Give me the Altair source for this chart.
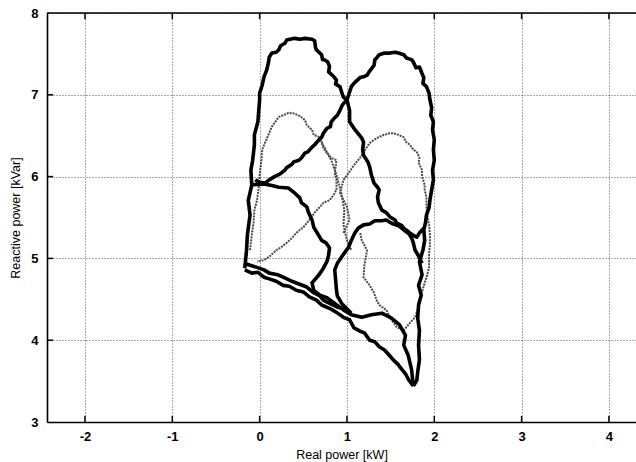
import altair as alt
import pandas as pd

# ---- data ----
A_x = [-0.17,-0.15,-0.14,-0.11,-0.13,-0.09,-0.10,-0.08,-0.06,-0.06,-0.02,-0.01,0.00,0.00,0.03,0.05,0.08,0.10,0.11,0.14,0.19,0.22,0.24,0.29,0.31,0.40,0.46,0.52,0.60,0.63,0.64,0.65,0.69,0.71,0.72,0.74,0.78,0.80,0.79,0.85,0.88,0.87,0.92,0.94,0.96,1.00,0.95,0.92,0.89,0.86,0.82,0.81,0.77,0.73,0.71,0.68,0.63,0.60,0.55,0.52,0.48,0.45,0.39,0.37,0.31,0.29,0.23,0.17,0.11,0.06,0.00,-0.05]
A_y = [4.88,5.10,5.29,5.53,5.71,5.90,6.08,6.20,6.39,6.51,6.67,6.81,6.94,7.02,7.12,7.22,7.30,7.39,7.46,7.51,7.52,7.55,7.60,7.63,7.67,7.69,7.68,7.69,7.68,7.66,7.58,7.55,7.51,7.49,7.43,7.43,7.40,7.35,7.28,7.22,7.18,7.13,7.10,7.03,6.97,6.94,6.88,6.81,6.75,6.72,6.67,6.61,6.59,6.53,6.48,6.45,6.39,6.36,6.30,6.29,6.23,6.20,6.18,6.15,6.11,6.08,6.03,6.00,5.96,5.92,5.93,5.96]

B_x = [1.00,1.02,1.05,1.08,1.15,1.19,1.23,1.26,1.31,1.32,1.34,1.37,1.43,1.49,1.55,1.59,1.65,1.68,1.74,1.76,1.79,1.83,1.86,1.88,1.87,1.91,1.94,1.95,1.97,1.96,1.99,1.98,2.00,1.99,2.00,1.98,1.99,1.97,1.95,1.94,1.91,1.90,1.88,1.89,1.87,1.83,1.86,1.82,1.85,1.82,1.81,1.83,1.82,1.83,1.81,1.80,1.76]
B_y = [6.94,7.00,7.10,7.14,7.21,7.22,7.24,7.29,7.36,7.43,7.45,7.49,7.51,7.51,7.52,7.51,7.49,7.45,7.43,7.40,7.33,7.34,7.26,7.21,7.14,7.10,7.02,6.94,6.84,6.75,6.67,6.57,6.45,6.33,6.20,6.08,5.96,5.84,5.71,5.62,5.53,5.44,5.35,5.22,5.10,4.96,4.80,4.67,4.55,4.43,4.27,4.12,3.94,3.76,3.61,3.51,3.44]

C_x = [1.00,1.03,1.03,1.08,1.11,1.17,1.19,1.18,1.19,1.24,1.26,1.28,1.31,1.35,1.37,1.35,1.36,1.40,1.45,1.49,1.55,1.57,1.63,1.65,1.70,1.72,1.78,1.80,1.83,1.88]
C_y = [6.94,6.81,6.67,6.59,6.55,6.47,6.42,6.33,6.26,6.18,6.12,6.02,5.92,5.87,5.84,5.75,5.68,5.59,5.56,5.51,5.47,5.43,5.40,5.37,5.33,5.31,5.27,5.26,5.31,5.37]

D_x = [-0.09,0.05,0.14,0.22,0.33,0.40,0.46,0.48,0.54,0.56,0.60,0.62,0.66,0.71,0.76,0.80,0.79,0.77,0.73,0.68,0.60,0.62,0.69,0.77,0.86,0.96,1.05,1.17,1.28,1.40,1.51,1.60,1.67,1.65,1.70,1.74,1.76]
D_y = [5.90,5.91,5.89,5.87,5.86,5.80,5.74,5.68,5.63,5.56,5.47,5.38,5.31,5.22,5.19,5.13,5.04,4.96,4.88,4.80,4.70,4.61,4.55,4.52,4.45,4.37,4.31,4.28,4.31,4.33,4.27,4.19,4.06,3.94,3.82,3.64,3.44]

E_x = [-0.17,-0.09,-0.02,0.05,0.11,0.19,0.27,0.34,0.42,0.50,0.57,0.65,0.71,0.80,0.88,0.96,1.03,1.08,1.15,1.20,1.26,1.32,1.37,1.43,1.49,1.53,1.58,1.63,1.67,1.71,1.76]
E_y = [4.86,4.82,4.83,4.77,4.75,4.72,4.67,4.66,4.61,4.59,4.53,4.49,4.43,4.39,4.34,4.28,4.25,4.15,4.11,4.09,4.00,3.98,3.92,3.88,3.81,3.76,3.71,3.64,3.59,3.51,3.44]

E2_x = [-0.18,-0.09,-0.03,0.05,0.11,0.21,0.27,0.37,0.42,0.54,0.62,0.69,0.73,0.82,0.88,1.00]
E2_y = [4.94,4.91,4.89,4.86,4.82,4.80,4.77,4.72,4.70,4.65,4.58,4.54,4.49,4.44,4.41,4.37]

F_x = [1.05,0.94,0.89,0.88,0.87,0.86,0.89,0.94,0.98,1.02,1.05,1.09,1.13,1.19,1.26,1.32,1.40,1.45,1.51,1.59,1.65,1.71,1.74,1.76,1.78,1.82,1.86]
F_y = [4.33,4.45,4.54,4.61,4.74,4.86,4.94,5.02,5.08,5.14,5.22,5.31,5.37,5.41,5.42,5.46,5.46,5.47,5.43,5.40,5.35,5.30,5.25,5.19,5.10,5.03,4.94]

G1_x = [-0.11,-0.09,-0.07,-0.06,-0.03,-0.01,0.00,0.02,0.03,0.06,0.10,0.14,0.18,0.22,0.27,0.33,0.40,0.46,0.52,0.54,0.60,0.62,0.69,0.71,0.73,0.77,0.82,0.88,0.87,0.86,0.88,0.88,0.85,0.80,0.73,0.69,0.63,0.57,0.50,0.46,0.42,0.37,0.31,0.25,0.19,0.11,0.05,-0.03]
G1_y = [5.10,5.29,5.43,5.59,5.71,5.87,6.02,6.20,6.33,6.41,6.51,6.61,6.67,6.73,6.75,6.78,6.77,6.74,6.69,6.63,6.57,6.51,6.48,6.42,6.35,6.29,6.23,6.20,6.12,6.04,5.96,5.84,5.78,5.71,5.68,5.63,5.56,5.47,5.38,5.35,5.31,5.25,5.19,5.14,5.10,5.02,4.98,4.96]

G1b_x = [0.71,0.82,0.88,0.94,0.97,0.96,1.00,1.05]
G1b_y = [6.42,6.20,6.02,5.78,5.59,5.41,5.22,5.10]

G2_x = [0.96,1.03,1.00,0.92,0.96,1.03,1.08,1.15,1.19,1.26,1.34,1.42,1.49,1.53,1.59,1.65,1.68,1.72,1.76,1.80,1.83,1.82,1.86,1.86,1.89,1.89,1.91,1.91,1.92,1.94,1.95,1.95,1.94,1.94,1.92,1.89,1.86,1.83,1.81,1.78,1.72,1.65,1.57,1.51,1.45,1.37,1.34,1.31,1.26,1.19,1.20,1.23,1.17,1.15]
G2_y = [5.31,5.47,5.63,5.80,5.96,6.06,6.14,6.23,6.30,6.41,6.47,6.51,6.53,6.53,6.51,6.48,6.42,6.39,6.33,6.30,6.23,6.17,6.08,6.00,5.90,5.84,5.75,5.65,5.53,5.41,5.29,5.16,5.04,4.89,4.80,4.70,4.59,4.49,4.37,4.28,4.21,4.12,4.16,4.25,4.37,4.43,4.49,4.58,4.67,4.77,4.92,5.10,5.22,5.32]

x_ticks = [-2, -1, 0, 1, 2, 3, 4]
y_ticks = [3, 4, 5, 6, 7, 8]
X_MIN, X_MAX = -2.435, 4.31
Y_MIN, Y_MAX = 3, 8

thick = {"A": (A_x, A_y), "B": (B_x, B_y), "C": (C_x, C_y), "D": (D_x, D_y),
         "E": (E_x, E_y), "E2": (E2_x, E2_y), "F": (F_x, F_y)}
thin = {"G1": (G1_x, G1_y), "G1b": (G1b_x, G1b_y), "G2": (G2_x, G2_y)}


def frame(paths):
    rows = []
    for name, (xs, ys) in paths.items():
        for i, (a, b) in enumerate(zip(xs, ys)):
            rows.append({"path": name, "order": i, "x": a, "y": b})
    return pd.DataFrame(rows)


df_thick = frame(thick)
df_thin = frame(thin)

FONT = "Liberation Sans"
xs = alt.Scale(domain=[X_MIN, X_MAX], nice=False, zero=False)
ys = alt.Scale(domain=[Y_MIN, Y_MAX], nice=False, zero=False)

common = dict(grid=True, gridDash=[1, 2], gridColor="#555", gridWidth=1, ticks=False,
              domainColor="#000", domainWidth=1.6, labelFont=FONT, labelFontSize=13,
              labelFontWeight="bold", labelColor="#000", labelExpr="'' + datum.value",
              titleFont=FONT, titleFontSize=12.5, titleFontWeight="normal", titleColor="#000")
x_axis = alt.Axis(values=x_ticks, title="Real power [kW]", labelPadding=8, titlePadding=5, **common)
y_axis = alt.Axis(values=y_ticks, title="Reactive power [kVar]", labelPadding=9, titlePadding=8, **common)

thin_layer = alt.Chart(df_thin).mark_line(clip=True, color="#4a4a4a", strokeWidth=2,
                                          strokeJoin="round", strokeDash=[2, 1]).encode(
    x=alt.X("x:Q", scale=xs, axis=x_axis),
    y=alt.Y("y:Q", scale=ys, axis=y_axis),
    detail="path:N",
    order="order:Q",
)

thick_layer = alt.Chart(df_thick).mark_line(clip=True, color="#000", strokeWidth=3.6,
                                            strokeJoin="round").encode(
    x=alt.X("x:Q", scale=xs),
    y=alt.Y("y:Q", scale=ys),
    detail="path:N",
    order="order:Q",
)

xt = pd.DataFrame({"v": x_ticks})
ytk = pd.DataFrame({"v": y_ticks[1:-1]})

bottom_ticks = alt.Chart(xt).mark_rule(color="#000", strokeWidth=1.5).encode(
    x="v:Q", y=alt.datum(Y_MIN), y2=alt.datum(Y_MIN + 0.075))
top_ticks = alt.Chart(xt).mark_rule(color="#000", strokeWidth=1.5).encode(
    x="v:Q", y=alt.datum(Y_MAX), y2=alt.datum(Y_MAX - 0.075))
left_ticks = alt.Chart(ytk).mark_rule(color="#000", strokeWidth=1.5).encode(
    y="v:Q", x=alt.datum(X_MIN), x2=alt.datum(X_MIN + 0.07))
top_line = alt.Chart(pd.DataFrame({"v": [Y_MAX]})).mark_rule(color="#000", strokeWidth=1.6).encode(
    y="v:Q", x=alt.datum(X_MIN), x2=alt.datum(X_MAX))

chart = alt.layer(thin_layer, thick_layer, bottom_ticks, top_ticks, left_ticks, top_line).properties(
    width=589, height=409,
    autosize=alt.AutoSizeParams(type="none"),
    padding={"left": 47, "top": 13, "right": 0, "bottom": 40},
).configure_view(stroke=None).configure(background="#ffffff")

chart.save("out.html", embed_options={"renderer": "svg", "actions": False})
